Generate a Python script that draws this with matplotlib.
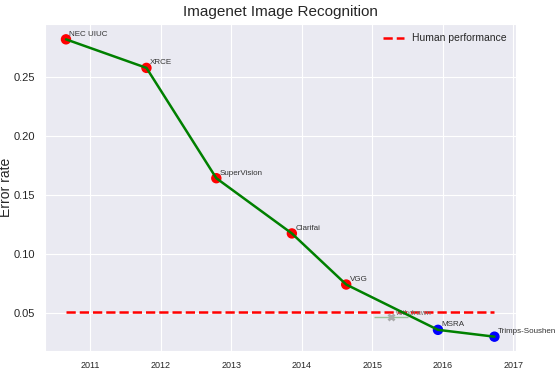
import numpy as np
import matplotlib
matplotlib.use("Agg")
from matplotlib import pyplot as plt
import seaborn as sns

# winners per year (decimal year, top-5 error)
nombres = ["NEC UIUC", "XRCE", "SuperVision", "Clarifai", "VGG", "MSRA", "Trimps-Soushen"]
anios = [2010.66, 2011.80, 2012.79, 2013.86, 2014.63, 2015.93, 2016.73]
errores = [0.2819, 0.2577, 0.1642, 0.1174, 0.0741, 0.0357, 0.0299]
colores = ["red", "red", "red", "red", "red", "blue", "blue"]

humano = 0.051

baidu_anio = 2015.27
baidu_err = 0.0466
baidu_xerr = 0.24
baidu_txt = "withdrawn"

sns.set_style("darkgrid")
plt.rcParams['font.family'] = ['Arial', 'Liberation Sans', 'DejaVu Sans']

fig, ax = plt.subplots(figsize=(5.6, 3.79), dpi=100)

ax.scatter(anios, errores, c=colores, s=42, zorder=3)
ax.plot(anios, errores, color="green", lw=1.8, zorder=4)
for n, x, y in zip(nombres, anios, errores):
    ax.annotate(n, (x, y), xytext=(2.5, 2.5), textcoords="offset points", fontsize=5.8, color="#333333")

ax.hlines(humano, anios[0], anios[-1], colors="red", linestyles="--", lw=1.8,
          label="Human performance", zorder=2)

ax.errorbar(baidu_anio, baidu_err, xerr=baidu_xerr, fmt="x", color="#aaaaaa", ecolor="#99c299",
            elinewidth=1, ms=5, mew=2, zorder=2)
ax.annotate(baidu_txt, (baidu_anio, baidu_err), xytext=(2.5, 1.5), textcoords="offset points",
            fontsize=5.8, color="#777777")

ax.set_xlim(2010.36, 2017.04)
ax.set_ylim(0.0178, 0.295)
ax.set_xticks([2011, 2012, 2013, 2014, 2015, 2016, 2017])
ax.set_yticks([0.05, 0.10, 0.15, 0.20, 0.25])
ax.tick_params(axis="x", labelsize=6.5)
ax.tick_params(axis="y", labelsize=8)
ax.set_ylabel("Error rate", fontsize=10)
ax.yaxis.set_label_coords(-0.068, 0.5)
ax.set_title("Imagenet Image Recognition", fontsize=11)
ax.legend(loc="upper right", fontsize=7.5, frameon=False)

plt.subplots_adjust(left=0.08, right=0.922, top=0.937, bottom=0.074)
plt.savefig("out.png", dpi=100)
